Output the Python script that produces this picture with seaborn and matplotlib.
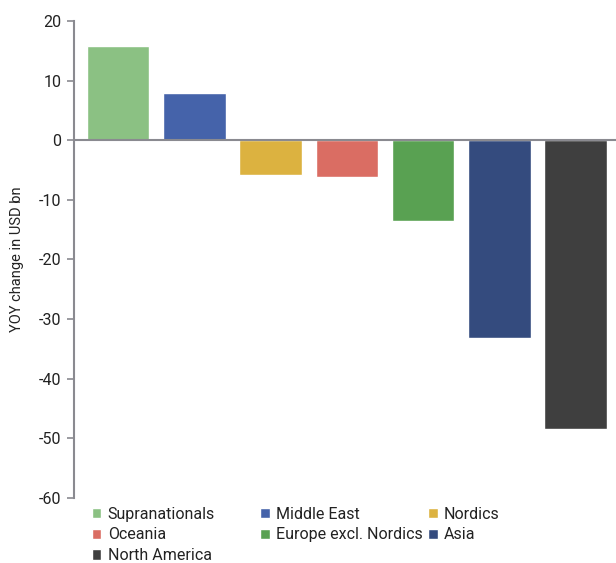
import matplotlib
matplotlib.use("Agg")
import matplotlib.pyplot as plt
from matplotlib.patches import Patch
import seaborn as sns
import pandas as pd

regions = ["Supranationals", "Middle East", "Nordics", "Oceania",
           "Europe excl. Nordics", "Asia", "North America"]
yoy_change = [15.8, 7.9, -5.8, -6.2, -13.5, -33.2, -48.4]
colors = ["#8BC183", "#4563AA", "#DCB240", "#DA6D63",
          "#59A152", "#344B7E", "#3F3F3F"]
yticks = [20, 10, 0, -10, -20, -30, -40, -50, -60]

sns.set_style("white")
plt.rcParams['font.family'] = ['Roboto', 'DejaVu Sans']
plt.rcParams['axes.unicode_minus'] = False

df = pd.DataFrame({"region": regions, "value": yoy_change})

fig = plt.figure(figsize=(6.16, 5.63), dpi=100)
ax = fig.add_axes([0.12, 0.1155, 0.88, 0.8472])

sns.barplot(data=df, x="region", y="value", hue="region", order=regions,
            hue_order=regions, palette=colors, width=0.82, dodge=False,
            legend=False, saturation=1, ax=ax)

ax.set_ylim(-60, 20)
ax.set_yticks(yticks)
ax.set_xlim(-0.58, 6.53)
ax.set_xticks([])
ax.set_xlabel("")
ax.set_ylabel("YOY change in USD bn", fontsize=10.5, color="#222222")
ax.yaxis.set_label_coords(-0.092, 0.5)

for s in ["top", "right", "bottom"]:
    ax.spines[s].set_visible(False)
ax.spines["left"].set_color("#8A8A90")
ax.spines["left"].set_linewidth(1.5)
ax.axhline(0, color="#8A8A90", lw=1.5, zorder=3)
ax.tick_params(axis="y", left=True, length=5, width=1.2, color="#8A8A90",
               labelsize=11.5, labelcolor="#222222", pad=4)

# legend: three fixed columns, filled row by row
cols = [[0, 3, 6], [1, 4], [2, 5]]
col_x = [0.149, 0.422, 0.695]
for cx, idx in zip(col_x, cols):
    handles = [Patch(facecolor=colors[i], label=regions[i]) for i in idx]
    fig.legend(handles=handles, loc="upper left", bbox_to_anchor=(cx, 0.1),
               frameon=False, fontsize=11.5, handlelength=0.6, handleheight=0.6,
               handletextpad=0.4, labelspacing=0.36, borderpad=0,
               borderaxespad=0, labelcolor="#222222")

fig.savefig("out.png", dpi=100)
